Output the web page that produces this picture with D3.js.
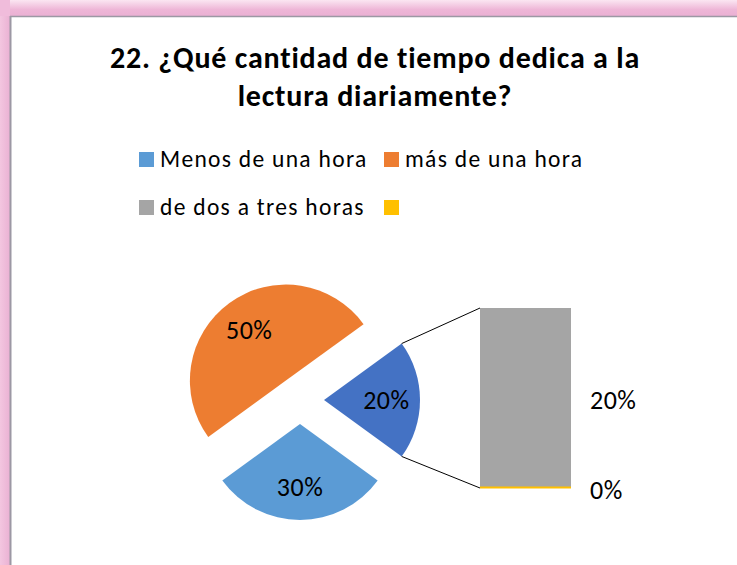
<!DOCTYPE html>
<html>
<head>
<meta charset="utf-8">
<script src="https://cdn.jsdelivr.net/npm/d3@7"></script>
<style>
  html, body { margin: 0; padding: 0; background: #ffffff; }
  svg { display: block; }
  text { font-family: Carlito, Calibri, Lato, "Open Sans", sans-serif; fill: #000; }
</style>
</head>
<body>
<svg id="chart" width="737" height="565"></svg>
<script>
// ---- data ----
const titleLines = ["22. ¿Qué cantidad de tiempo dedica a la", "lectura diariamente?"];
const categories = ["Menos de una hora", "más de una hora", "de dos a tres horas", ""];
const values = [30, 50, 20, 0];           // percent
const colors = ["#5B9BD5", "#ED7D31", "#A5A5A5", "#FFC000"];
const otherColor = "#4472C4";
const otherLabel = "Otro";
// items that go to the secondary bar, listed bottom to top
const barIdx = [3, 2];

const svg = d3.select("#chart");
const W = 737, H = 565;

// ---- frame ----
const defs = svg.append("defs");
const gTop = defs.append("linearGradient").attr("id", "gTop").attr("x1", 0).attr("y1", 0).attr("x2", 0).attr("y2", 1);
gTop.append("stop").attr("offset", "0%").attr("stop-color", "#fbe6f2");
gTop.append("stop").attr("offset", "60%").attr("stop-color", "#eeb6d7");
gTop.append("stop").attr("offset", "100%").attr("stop-color", "#eab0d3");
const gLeft = defs.append("linearGradient").attr("id", "gLeft").attr("x1", 0).attr("y1", 0).attr("x2", 1).attr("y2", 0);
gLeft.append("stop").attr("offset", "0%").attr("stop-color", "#f3c6e0");
gLeft.append("stop").attr("offset", "100%").attr("stop-color", "#eab1d3");

svg.append("rect").attr("x", 0).attr("y", 0).attr("width", W).attr("height", 16).attr("fill", "url(#gTop)");
svg.append("rect").attr("x", 0).attr("y", 0).attr("width", 10).attr("height", H).attr("fill", "url(#gLeft)");
svg.append("rect").attr("x", 0).attr("y", 0).attr("width", 10).attr("height", 16).attr("fill", "#f0bcdb");
svg.append("rect").attr("x", 11).attr("y", 17).attr("width", W - 11).attr("height", H - 17).attr("fill", "#ffffff");
svg.append("line").attr("x1", 10.5).attr("y1", 16).attr("x2", 10.5).attr("y2", H).attr("stroke", "#9c98a4").attr("stroke-width", 2);
svg.append("line").attr("x1", 10).attr("y1", 16.5).attr("x2", W).attr("y2", 16.5).attr("stroke", "#9c98a4").attr("stroke-width", 1.5);

// ---- title ----
const title = svg.append("text").attr("text-anchor", "middle")
  .style("font-weight", "bold").style("font-size", "30px").style("letter-spacing", "0.8px");
titleLines.forEach((t, i) => {
  title.append("tspan").attr("x", 375).attr("y", 68 + i * 38).text(t);
});

// ---- legend ----
const legendPos = [[139, 152], [384, 152], [139, 200], [384, 200]];
const legend = svg.append("g");
categories.forEach((c, i) => {
  const g = legend.append("g").attr("transform", `translate(${legendPos[i][0]},${legendPos[i][1]})`);
  g.append("rect").attr("width", 15).attr("height", 15).attr("fill", colors[i]);
  g.append("text").attr("x", 21).attr("y", 15).style("font-size", "23.5px").style("letter-spacing", "1.3px").text(c);
});

// ---- main pie ----
const otherValue = d3.sum(barIdx, i => values[i]);
const pieItems = [
  { name: otherLabel, value: otherValue, color: otherColor },
  ...values.map((v, i) => ({ name: categories[i], value: v, color: colors[i] }))
    .filter((d, i) => !barIdx.includes(i))
];
const total = d3.sum(pieItems, d => d.value);
const otherSpan = otherValue / total * 2 * Math.PI;
const start = Math.PI / 2 - otherSpan / 2;
const pie = d3.pie().sort(null).value(d => d.value).startAngle(start).endAngle(start + 2 * Math.PI);
const R = 96, explode = 24;
const cx = 300, cy = 400;
const arc = d3.arc().innerRadius(0).outerRadius(R);
const labelArc = d3.arc().innerRadius(R * 0.65).outerRadius(R * 0.65);
const fmt = v => Math.round(v) + "%";

const slices = svg.append("g").attr("transform", `translate(${cx},${cy})`)
  .selectAll("g").data(pie(pieItems)).join("g")
  .attr("transform", d => {
    const a = (d.startAngle + d.endAngle) / 2;
    return `translate(${explode * Math.sin(a)},${-explode * Math.cos(a)})`;
  });
slices.append("path").attr("d", arc).attr("fill", d => d.data.color);
slices.append("text").attr("text-anchor", "middle").attr("dy", "0.35em")
  .attr("transform", d => `translate(${labelArc.centroid(d)})`)
  .style("font-size", "26px").style("letter-spacing", "0.5px").text(d => fmt(d.data.value / total * 100));

// ---- secondary bar ----
const barX0 = 480, barX1 = 571, barTop = 308, barBot = 488;
const y = d3.scaleLinear().domain([0, otherValue]).range([barBot, barTop]);
let acc = 0;
const barData = barIdx.map(i => {
  const d = { v: values[i], color: colors[i], y0: acc, y1: acc + values[i] };
  acc += values[i];
  return d;
});
const bar = svg.append("g");
barData.forEach(d => {
  const h = Math.max(y(d.y0) - y(d.y1), 0);
  if (h > 0) {
    bar.append("rect").attr("x", barX0).attr("y", y(d.y1)).attr("width", barX1 - barX0).attr("height", h).attr("fill", d.color);
  } else {
    bar.append("line").attr("x1", barX0).attr("x2", barX1).attr("y1", y(d.y0) - 0.5).attr("y2", y(d.y0) - 0.5)
      .attr("stroke", d.color).attr("stroke-width", 2);
  }
  bar.append("text").attr("x", barX1 + 19).attr("y", (y(d.y0) + y(d.y1)) / 2 + 2).attr("dy", "0.35em")
    .style("font-size", "26px").style("letter-spacing", "0.5px").text(fmt(d.v / total * 100));
});
// draw the zero-height segment on top
bar.selectAll("line").raise();

// ---- connector lines ----
const oth = pie(pieItems)[0];
const am = (oth.startAngle + oth.endAngle) / 2;
const ox = cx + explode * Math.sin(am), oy = cy - explode * Math.cos(am);
const pTop = [ox + R * Math.sin(oth.startAngle), oy - R * Math.cos(oth.startAngle)];
const pBot = [ox + R * Math.sin(oth.endAngle), oy - R * Math.cos(oth.endAngle)];
svg.append("line").attr("x1", pTop[0]).attr("y1", pTop[1]).attr("x2", barX0).attr("y2", y(otherValue))
  .attr("stroke", "#000").attr("stroke-width", 1);
svg.append("line").attr("x1", pBot[0]).attr("y1", pBot[1]).attr("x2", barX0).attr("y2", y(0))
  .attr("stroke", "#000").attr("stroke-width", 1);
</script>
</body>
</html>
